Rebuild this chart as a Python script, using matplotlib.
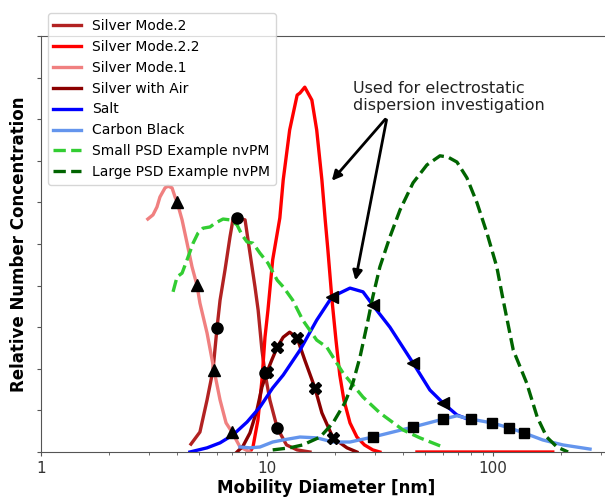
import matplotlib
matplotlib.use('Agg')
import matplotlib.pyplot as plt
import numpy as np

# Silver Mode.2
sm2_x = [4.61, 5.05, 5.43, 5.77, 6.01, 6.20, 6.52, 6.86, 7.07, 7.37, 8.00, 8.41, 8.85, 9.14, 9.5, 9.8, 10.3, 11.1, 12.2, 13.6, 15.5]
sm2_y = [0.019, 0.048, 0.125, 0.197, 0.298, 0.365, 0.4375, 0.517, 0.558, 0.5625, 0.558, 0.478, 0.397, 0.341, 0.245, 0.19, 0.125, 0.058, 0.017, 0.005, 0.0]
sm2_marks = [4, 9, 15, 17]

# Silver Mode.2.2
sm22_x = [8.41, 8.67, 9.12, 9.50, 9.80, 10.1, 10.6, 11.4, 11.8, 12.6, 13.6, 14.0, 14.7, 15.8, 16.6, 17.5,
          18.1, 18.6, 19.4, 20.2, 21.0, 21.9, 23.3, 25.0, 27.0, 29.4, 31.6, np.nan, 46.1, 184]
sm22_y = [0.0, 0.012, 0.077, 0.173, 0.276, 0.341, 0.462, 0.5625, 0.654, 0.774, 0.858, 0.863, 0.877, 0.846, 0.774, 0.654,
          0.558, 0.486, 0.365, 0.269, 0.185, 0.125, 0.070, 0.036, 0.017, 0.005, 0.0, np.nan, 0.0, 0.0]

# Silver Mode.1
sm1_x = [2.97, 3.13, 3.26, 3.36, 3.54, 3.65, 3.80, 3.92, 4.00, 4.21, 4.43, 4.66, 4.90, 5.05, 5.43, 5.83, 6.20, 6.59, 7.00, 7.60, 8.41]
sm1_y = [0.560, 0.570, 0.589, 0.613, 0.635, 0.639, 0.635, 0.613, 0.601, 0.558, 0.502, 0.445, 0.401, 0.358, 0.286, 0.197, 0.125, 0.070, 0.048, 0.012, 0.0]
sm1_marks = [8, 12, 15, 18]

# Silver with Air
air_x = [7.37, 7.83, 8.41, 9.03, 9.50, 10.0, 10.5, 11.1, 11.8, 12.6, 13.6, 14.7, 16.3, 17.5, 19.6, 22.6, 25.0]
air_y = [0.0, 0.014, 0.046, 0.101, 0.156, 0.192, 0.221, 0.252, 0.276, 0.288, 0.274, 0.221, 0.154, 0.094, 0.034, 0.010, 0.0]
air_marks = [5, 7, 10, 12, 14]

# Salt
salt_x = [4.56, 5.43, 6.20, 7.07, 8.16, 9.31, 10.6, 11.8, 14.0, 16.6, 19.4, 23.3, 26.6, 29.4, 35.0, 44.3, 52.6, 60.1, 69.3, 79.1]
salt_y = [0.0, 0.010, 0.022, 0.041, 0.072, 0.108, 0.154, 0.185, 0.245, 0.317, 0.373, 0.394, 0.385, 0.353, 0.300, 0.214, 0.149, 0.118, 0.089, 0.077]
salt_marks = [10, 13, 15, 17]

# Carbon Black
cb_x = [7.60, 8.41, 9.31, 10.6, 11.8, 14.0, 16.6, 19.6, 23.3, 29.4, 44.3, 60.1, 69.3, 79.9, 99.0, 118, 137, 166, 204, 269]
cb_y = [0.012, 0.010, 0.012, 0.024, 0.029, 0.036, 0.034, 0.024, 0.024, 0.036, 0.060, 0.079, 0.087, 0.079, 0.070, 0.058, 0.046, 0.029, 0.017, 0.007]
cb_marks = [9, 10, 11, 13, 14, 15, 16]

# Small PSD Example nvPM
small_x = [3.84, 4.00, 4.21, 4.43, 4.71, 4.95, 5.21, 5.60, 5.89, 6.39, 6.86, 7.37, 7.75, 8.16, 8.67, 9.31, 10.1, 11.1, 11.8,
           13.0, 14.4, 16.6, 18.4, 21.7, 26.6, 31.6, 40.0, 47.5, 60.1]
small_y = [0.385, 0.421, 0.430, 0.462, 0.502, 0.526, 0.538, 0.541, 0.550, 0.560, 0.558, 0.546, 0.522, 0.505, 0.502, 0.478, 0.454, 0.413, 0.397,
           0.365, 0.317, 0.269, 0.252, 0.190, 0.132, 0.094, 0.053, 0.034, 0.012]

# Large PSD Example nvPM
large_x = [10.6, 12.6, 14.4, 17.2, 19.6, 22.1, 24.0, 25.8, 28.0, 29.4, 31.6, 35.0, 38.8, 44.3, 51.0, 58.3, 63.2, 69.3, 76.7,
           85.0, 94.1, 104, 111, 123, 141, 157, 173, 192, 215]
large_y = [0.005, 0.010, 0.017, 0.036, 0.070, 0.118, 0.166, 0.228, 0.317, 0.373, 0.445, 0.517, 0.582, 0.647, 0.690, 0.712, 0.709, 0.697, 0.659,
           0.599, 0.526, 0.445, 0.365, 0.245, 0.166, 0.084, 0.036, 0.012, 0.0]

# annotation anchor and arrow targets
note_text = 'Used for electrostatic\ndispersion investigation'
note_xy = (24.0, 0.814)
arrow_from = (34.0, 0.805)
arrow_to = [(19.0, 0.647), (24.5, 0.406)]

fig = plt.figure(figsize=(6.05, 4.97), dpi=100)
ax = fig.add_axes([41 / 605, 45 / 497, 570 / 605, 416 / 497])

lw = 2.4
ax.plot(sm2_x, sm2_y, color='#B22222', lw=lw, label='Silver Mode.2')
ax.plot(sm22_x, sm22_y, color='#FF0000', lw=lw, label='Silver Mode.2.2')
ax.plot(sm1_x, sm1_y, color='#F08080', lw=lw, label='Silver Mode.1')
ax.plot(air_x, air_y, color='#8B0000', lw=lw, label='Silver with Air')
ax.plot(salt_x, salt_y, color='#0000FF', lw=lw, label='Salt')
ax.plot(cb_x, cb_y, color='#6495ED', lw=lw, label='Carbon Black')
ax.plot(small_x, small_y, color='#32CD32', lw=lw, ls='--', label='Small PSD Example nvPM')
ax.plot(large_x, large_y, color='#006400', lw=lw, ls='--', label='Large PSD Example nvPM')

# black markers on some of the curves
def marks(xs, ys, idx, m, ms):
    ax.plot([xs[i] for i in idx], [ys[i] for i in idx], ls='none', marker=m,
            color='black', ms=ms, zorder=5)

marks(sm1_x, sm1_y, sm1_marks, '^', 8)
marks(sm2_x, sm2_y, sm2_marks, 'o', 8)
marks(air_x, air_y, air_marks, 'X', 8)
marks(salt_x, salt_y, salt_marks, '<', 8)
marks(cb_x, cb_y, cb_marks, 's', 7)

ax.set_xscale('log')
ax.set_xlim(1, 333)
ax.set_ylim(0, 1)
ax.set_yticks(np.arange(0, 1.01, 0.1))
ax.set_yticklabels([])
ax.set_xticks([1, 10, 100])
ax.set_xticklabels(['1', '10', '100'])

for s in ['left', 'bottom', 'top']:
    ax.spines[s].set_color('#555555')
ax.spines['right'].set_visible(False)
ax.tick_params(which='both', direction='out', colors='#555555', labelcolor='#333333', labelsize=11)
ax.tick_params(which='major', length=3)
ax.tick_params(which='minor', length=2.5)

ax.set_xlabel('Mobility Diameter [nm]', fontsize=12, fontweight='bold', labelpad=2)
ax.set_ylabel('Relative Number Concentration', fontsize=12, fontweight='bold', labelpad=3)

ax.text(note_xy[0], note_xy[1], note_text, fontsize=11.5, color='#222222', ha='left', va='bottom')
for tgt in arrow_to:
    ax.annotate('', xy=tgt, xytext=arrow_from,
                arrowprops=dict(arrowstyle='-|>', color='black', lw=2, mutation_scale=14))

ax.legend(loc='upper left', bbox_to_anchor=(0.012, 1.055), borderaxespad=0, fontsize=10)

fig.savefig('out.png', dpi=100)
plt.close(fig)
